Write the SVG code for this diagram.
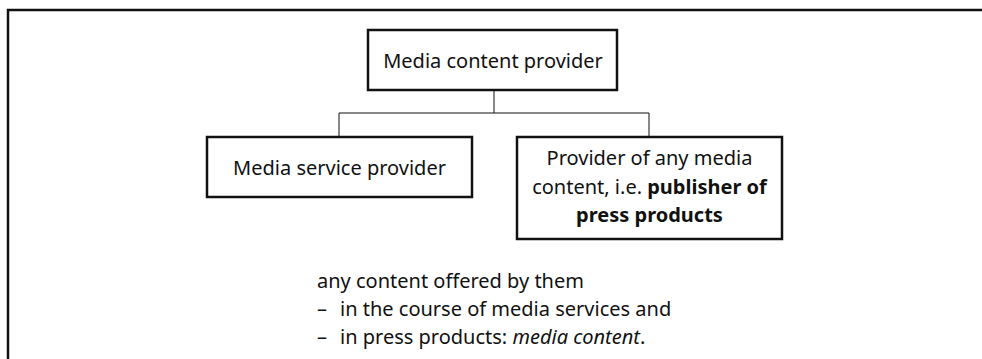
<svg xmlns="http://www.w3.org/2000/svg" width="982" height="359" viewBox="0 0 982 359">
<style>
.box{fill:#fff;stroke:#111;stroke-width:2.5}
.frame{fill:none;stroke:#111;stroke-width:2.5}
.conn{fill:none;stroke:#111;stroke-width:1}
text{font-family:"Noto Sans","Open Sans",sans-serif;font-size:20px;fill:#111}
.c{text-anchor:middle}
.b{font-weight:bold}
.i{font-style:italic}
</style>
<rect width="982" height="359" fill="#fff"/>
<path class="frame" d="M8 359 V10 H982"/>
<g id="connectors">
<path class="conn" d="M494 90 V113 M339 137 V113 H649 V137"/>
</g>
<g id="media-content-provider">
<rect class="box" x="368" y="30" width="249" height="60"/>
<text class="c" x="493" y="68">Media content provider</text>
</g>
<g id="media-service-provider">
<rect class="box" x="207" y="137" width="265" height="60"/>
<text class="c" x="339.5" y="175">Media service provider</text>
</g>
<g id="press-publisher">
<rect class="box" x="517" y="137" width="265" height="102"/>
<text class="c" x="649.5" y="165">Provider of any media</text>
<text class="c" x="649.5" y="194">content, i.e. <tspan class="b">publisher of</tspan></text>
<text class="c b" x="649.5" y="222">press products</text>
</g>
<g id="note">
<text x="317" y="288">any content offered by them</text>
<text x="317" y="316">–</text><text x="340" y="316">in the course of media services and</text>
<text x="317" y="344">–</text><text x="340" y="344">in press products: <tspan class="i">media content</tspan>.</text>
</g>
</svg>
